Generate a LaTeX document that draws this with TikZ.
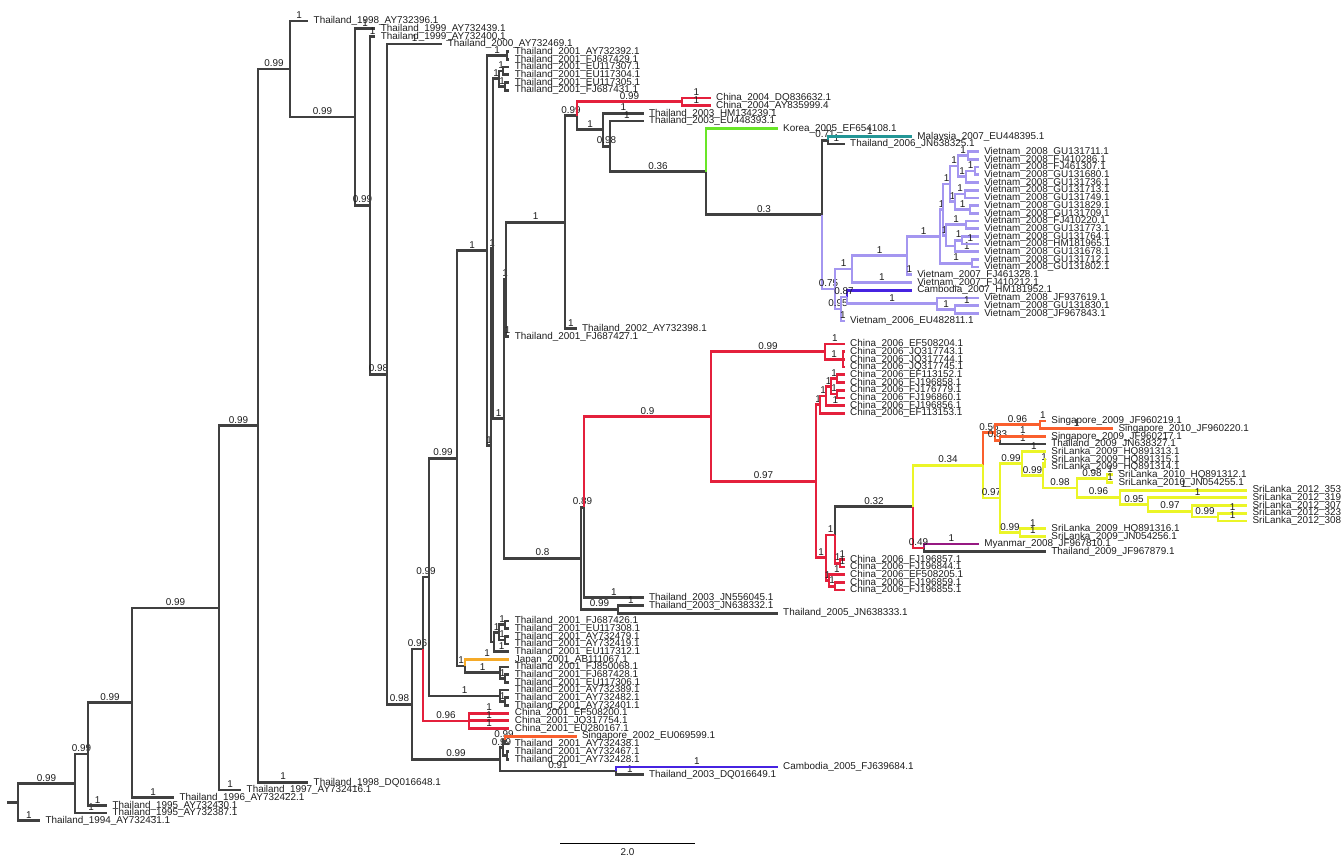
\documentclass[tikz,border=0pt]{standalone}
\usepackage{fontspec}
\setmainfont{Liberation Sans}

\definecolor{treegrey}{RGB}{64,64,64}
\definecolor{labgrey}{RGB}{30,30,30}
\definecolor{cnred}{RGB}{228,32,60}
\definecolor{vnlav}{RGB}{164,150,240}
\definecolor{khblue}{RGB}{70,35,225}
\definecolor{krgreen}{RGB}{105,230,40}
\definecolor{myteal}{RGB}{35,150,150}
\definecolor{sgorange}{RGB}{250,95,45}
\definecolor{lkyellow}{RGB}{235,245,40}
\definecolor{mmpurple}{RGB}{150,25,130}
\definecolor{jporange}{RGB}{245,170,40}

\begin{document}
\begin{tikzpicture}[x=1pt, y=-1pt]

  \tikzstyle{br}=[draw=treegrey, line width=2.7pt]
  \tikzstyle{elbow}=[to path={|- (\tikztotarget) \tikztonodes}]
  \tikzstyle{tip}=[anchor=west, inner xsep=5.5pt, inner ysep=0pt, outer sep=0pt, text height=7pt, text depth=1.5pt, font=\fontsize{9.9}{10}\selectfont, text=labgrey]
  \tikzstyle{pp}=[above, pos=0.75, inner sep=1pt, font=\fontsize{9.9}{10}\selectfont, text=labgrey]
  \tikzstyle{cn}=[draw=cnred]
  \tikzstyle{vn}=[draw=vnlav]
  \tikzstyle{kh}=[draw=khblue]
  \tikzstyle{kr}=[draw=krgreen]
  \tikzstyle{my}=[draw=myteal]
  \tikzstyle{sg}=[draw=sgorange]
  \tikzstyle{lk}=[draw=lkyellow]
  \tikzstyle{mm}=[draw=mmpurple]
  \tikzstyle{jp}=[draw=jporange]

  \useasboundingbox (0,0) rectangle (1341,860);

  % tips
  \node[tip] (t1) at (308.2,21.0) {Thailand\_1998\_AY732396.1};
  \node[tip] (t2) at (375.3,28.7) {Thailand\_1999\_AY732439.1};
  \node[tip] (t3) at (375.3,36.4) {Thailand\_1999\_AY732400.1};
  \node[tip] (t4) at (442.4,44.1) {Thailand\_2000\_AY732469.1};
  \node[tip] (t5) at (509.4,51.8) {Thailand\_2001\_AY732392.1};
  \node[tip] (t6) at (509.4,59.5) {Thailand\_2001\_FJ687429.1};
  \node[tip] (t7) at (509.4,67.1) {Thailand\_2001\_EU117307.1};
  \node[tip] (t8) at (509.4,74.8) {Thailand\_2001\_EU117304.1};
  \node[tip] (t9) at (509.4,82.5) {Thailand\_2001\_EU117305.1};
  \node[tip] (t10) at (509.4,90.2) {Thailand\_2001\_FJ687431.1};
  \node[tip] (t11) at (710.6,97.9) {China\_2004\_DQ836632.1};
  \node[tip] (t12) at (710.6,105.6) {China\_2004\_AY835999.4};
  \node[tip] (t13) at (643.5,113.3) {Thailand\_2003\_HM134239.1};
  \node[tip] (t14) at (643.5,121.0) {Thailand\_2003\_EU448393.1};
  \node[tip] (t15) at (777.7,128.7) {Korea\_2005\_EF654108.1};
  \node[tip] (t16) at (911.8,136.4) {Malaysia\_2007\_EU448395.1};
  \node[tip] (t17) at (844.7,144.0) {Thailand\_2006\_JN638325.1};
  \node[tip] (t18) at (978.8,151.7) {Vietnam\_2008\_GU131711.1};
  \node[tip] (t19) at (978.8,159.4) {Vietnam\_2008\_FJ410286.1};
  \node[tip] (t20) at (978.8,167.1) {Vietnam\_2008\_FJ461307.1};
  \node[tip] (t21) at (978.8,174.8) {Vietnam\_2008\_GU131680.1};
  \node[tip] (t22) at (978.8,182.5) {Vietnam\_2008\_GU131736.1};
  \node[tip] (t23) at (978.8,190.2) {Vietnam\_2008\_GU131713.1};
  \node[tip] (t24) at (978.8,197.9) {Vietnam\_2008\_GU131749.1};
  \node[tip] (t25) at (978.8,205.6) {Vietnam\_2008\_GU131829.1};
  \node[tip] (t26) at (978.8,213.3) {Vietnam\_2008\_GU131709.1};
  \node[tip] (t27) at (978.8,221.0) {Vietnam\_2008\_FJ410220.1};
  \node[tip] (t28) at (978.8,228.7) {Vietnam\_2008\_GU131773.1};
  \node[tip] (t29) at (978.8,236.3) {Vietnam\_2008\_GU131764.1};
  \node[tip] (t30) at (978.8,244.0) {Vietnam\_2008\_HM181965.1};
  \node[tip] (t31) at (978.8,251.7) {Vietnam\_2008\_GU131678.1};
  \node[tip] (t32) at (978.8,259.4) {Vietnam\_2008\_GU131712.1};
  \node[tip] (t33) at (978.8,267.1) {Vietnam\_2008\_GU131802.1};
  \node[tip] (t34) at (911.8,274.8) {Vietnam\_2007\_FJ461328.1};
  \node[tip] (t35) at (911.8,282.5) {Vietnam\_2007\_FJ410212.1};
  \node[tip] (t36) at (911.8,290.2) {Cambodia\_2007\_HM181952.1};
  \node[tip] (t37) at (978.8,297.9) {Vietnam\_2008\_JF937619.1};
  \node[tip] (t38) at (978.8,305.6) {Vietnam\_2008\_GU131830.1};
  \node[tip] (t39) at (978.8,313.3) {Vietnam\_2008\_JF967843.1};
  \node[tip] (t40) at (844.7,321.0) {Vietnam\_2006\_EU482811.1};
  \node[tip] (t41) at (576.5,328.6) {Thailand\_2002\_AY732398.1};
  \node[tip] (t42) at (509.4,336.3) {Thailand\_2001\_FJ687427.1};
  \node[tip] (t43) at (844.7,344.0) {China\_2006\_EF508204.1};
  \node[tip] (t44) at (844.7,351.7) {China\_2006\_JQ317743.1};
  \node[tip] (t45) at (844.7,359.4) {China\_2006\_JQ317744.1};
  \node[tip] (t46) at (844.7,367.1) {China\_2006\_JQ317745.1};
  \node[tip] (t47) at (844.7,374.8) {China\_2006\_EF113152.1};
  \node[tip] (t48) at (844.7,382.5) {China\_2006\_FJ196858.1};
  \node[tip] (t49) at (844.7,390.2) {China\_2006\_FJ176779.1};
  \node[tip] (t50) at (844.7,397.9) {China\_2006\_FJ196860.1};
  \node[tip] (t51) at (844.7,405.5) {China\_2006\_FJ196856.1};
  \node[tip] (t52) at (844.7,413.2) {China\_2006\_EF113153.1};
  \node[tip] (t53) at (1045.9,420.9) {Singapore\_2009\_JF960219.1};
  \node[tip] (t54) at (1113.0,428.6) {Singapore\_2010\_JF960220.1};
  \node[tip] (t55) at (1045.9,436.3) {Singapore\_2009\_JF960217.1};
  \node[tip] (t56) at (1045.9,444.0) {Thailand\_2009\_JN638327.1};
  \node[tip] (t57) at (1045.9,451.7) {SriLanka\_2009\_HQ891313.1};
  \node[tip] (t58) at (1045.9,459.4) {SriLanka\_2009\_HQ891315.1};
  \node[tip] (t59) at (1045.9,467.1) {SriLanka\_2009\_HQ891314.1};
  \node[tip] (t60) at (1113.0,474.8) {SriLanka\_2010\_HQ891312.1};
  \node[tip] (t61) at (1113.0,482.5) {SriLanka\_2010\_JN054255.1};
  \node[tip] (t62) at (1247.1,490.2) {SriLanka\_2012\_353};
  \node[tip] (t63) at (1247.1,497.8) {SriLanka\_2012\_319};
  \node[tip] (t64) at (1247.1,505.5) {SriLanka\_2012\_307};
  \node[tip] (t65) at (1247.1,513.2) {SriLanka\_2012\_323};
  \node[tip] (t66) at (1247.1,520.9) {SriLanka\_2012\_308};
  \node[tip] (t67) at (1045.9,528.6) {SriLanka\_2009\_HQ891316.1};
  \node[tip] (t68) at (1045.9,536.3) {SriLanka\_2009\_JN054256.1};
  \node[tip] (t69) at (978.8,544.0) {Myanmar\_2008\_JF967810.1};
  \node[tip] (t70) at (1045.9,551.7) {Thailand\_2009\_JF967879.1};
  \node[tip] (t71) at (844.7,559.4) {China\_2006\_FJ196857.1};
  \node[tip] (t72) at (844.7,567.1) {China\_2006\_FJ196844.1};
  \node[tip] (t73) at (844.7,574.7) {China\_2006\_EF508205.1};
  \node[tip] (t74) at (844.7,582.4) {China\_2006\_FJ196859.1};
  \node[tip] (t75) at (844.7,590.1) {China\_2006\_FJ196855.1};
  \node[tip] (t76) at (643.5,597.8) {Thailand\_2003\_JN556045.1};
  \node[tip] (t77) at (643.5,605.5) {Thailand\_2003\_JN638332.1};
  \node[tip] (t78) at (777.7,613.2) {Thailand\_2005\_JN638333.1};
  \node[tip] (t79) at (509.4,620.9) {Thailand\_2001\_FJ687426.1};
  \node[tip] (t80) at (509.4,628.6) {Thailand\_2001\_EU117308.1};
  \node[tip] (t81) at (509.4,636.3) {Thailand\_2001\_AY732479.1};
  \node[tip] (t82) at (509.4,643.9) {Thailand\_2001\_AY732419.1};
  \node[tip] (t83) at (509.4,651.6) {Thailand\_2001\_EU117312.1};
  \node[tip] (t84) at (509.4,659.3) {Japan\_2001\_AB111067.1};
  \node[tip] (t85) at (509.4,667.0) {Thailand\_2001\_FJ850068.1};
  \node[tip] (t86) at (509.4,674.7) {Thailand\_2001\_FJ687428.1};
  \node[tip] (t87) at (509.4,682.4) {Thailand\_2001\_EU117306.1};
  \node[tip] (t88) at (509.4,690.1) {Thailand\_2001\_AY732389.1};
  \node[tip] (t89) at (509.4,697.8) {Thailand\_2001\_AY732482.1};
  \node[tip] (t90) at (509.4,705.5) {Thailand\_2001\_AY732401.1};
  \node[tip] (t91) at (509.4,713.2) {China\_2001\_EF508200.1};
  \node[tip] (t92) at (509.4,720.8) {China\_2001\_JQ317754.1};
  \node[tip] (t93) at (509.4,728.5) {China\_2001\_EU280167.1};
  \node[tip] (t94) at (576.5,736.2) {Singapore\_2002\_EU069599.1};
  \node[tip] (t95) at (509.4,743.9) {Thailand\_2001\_AY732438.1};
  \node[tip] (t96) at (509.4,751.6) {Thailand\_2001\_AY732467.1};
  \node[tip] (t97) at (509.4,759.3) {Thailand\_2001\_AY732428.1};
  \node[tip] (t98) at (777.7,767.0) {Cambodia\_2005\_FJ639684.1};
  \node[tip] (t99) at (643.5,774.7) {Thailand\_2003\_DQ016649.1};
  \node[tip] (t100) at (308.2,782.3) {Thailand\_1998\_DQ016648.1};
  \node[tip] (t101) at (241.2,790.0) {Thailand\_1997\_AY732416.1};
  \node[tip] (t102) at (174.1,797.7) {Thailand\_1996\_AY732422.1};
  \node[tip] (t103) at (107.1,805.4) {Thailand\_1995\_AY732430.1};
  \node[tip] (t104) at (107.1,813.1) {Thailand\_1995\_AY732387.1};
  \node[tip] (t105) at (40.0,820.8) {Thailand\_1994\_AY732431.1};

  % internal nodes
  \coordinate (stub) at (7,802.2);
  \coordinate (root) at (18,802.2);
  \coordinate (nB) at (75,783.6);
  \coordinate (nC) at (88,754.1);
  \coordinate (nD) at (132,702.8);
  \coordinate (nE) at (219,607.9);
  \coordinate (nF) at (258,425.7);
  \coordinate (nG) at (290,69.0);
  \coordinate (nH) at (355,117.0);
  \coordinate (nI) at (370,205.3);
  \coordinate (nJ) at (387,374.2);
  \coordinate (nK) at (412,704.2);
  \coordinate (nL) at (423,649.0);
  \coordinate (nM) at (500,759.3);
  \coordinate (nN) at (429,577.1);
  \coordinate (nO) at (469,720.9);
  \coordinate (nP) at (457,458.3);
  \coordinate (nQ) at (500,695.9);
  \coordinate (nQa) at (505,701.7);
  \coordinate (nR) at (487,250.5);
  \coordinate (nS) at (465,666.0);
  \coordinate (nT) at (500,672.8);
  \coordinate (nTa) at (505,678.6);
  \coordinate (nX) at (507,55.7);
  \coordinate (nW) at (491,445.4);
  \coordinate (nR1) at (493,248.7);
  \coordinate (nY) at (499,78.7);
  \coordinate (nYa) at (503,71.0);
  \coordinate (nYb) at (505,86.4);
  \coordinate (nZ) at (494,642.0);
  \coordinate (nZ1) at (499,632.4);
  \coordinate (nZa) at (505,624.8);
  \coordinate (nZb) at (505,640.1);
  \coordinate (nV) at (504,418.8);
  \coordinate (nV1) at (506,279.2);
  \coordinate (nAA) at (565,222.2);
  \coordinate (nAC) at (577,115.8);
  \coordinate (nCN) at (682,101.8);
  \coordinate (nAE0) at (603,129.8);
  \coordinate (nAE1) at (610,146.3);
  \coordinate (nAG0) at (706,171.6);
  \coordinate (nAE) at (822,214.6);
  \coordinate (nAF) at (828,140.2);
  \coordinate (nAG) at (835,289.0);
  \coordinate (nAH) at (852,269.1);
  \coordinate (nAM) at (907,255.6);
  \coordinate (nAN) at (940,236.5);
  \coordinate (nAN1) at (943,209.7);
  \coordinate (nAN2) at (972,263.3);
  \coordinate (nA1) at (950,183.9);
  \coordinate (nA11) at (958,166.1);
  \coordinate (nA111) at (968,155.6);
  \coordinate (nA112) at (966,176.7);
  \coordinate (nA1121) at (975,171.0);
  \coordinate (nA12) at (955,201.7);
  \coordinate (nA121) at (965,194.0);
  \coordinate (nA122) at (970,209.4);
  \coordinate (nA2) at (946,235.4);
  \coordinate (nA21) at (966,224.8);
  \coordinate (nA22) at (955,246.0);
  \coordinate (nA221) at (962,240.2);
  \coordinate (nAJ) at (841,309.0);
  \coordinate (nAK) at (847,297.0);
  \coordinate (nAL) at (937,303.7);
  \coordinate (nAL2) at (955,309.5);
  \coordinate (nAB) at (581,558.3);
  \coordinate (nAR0) at (584,507.2);
  \coordinate (nAT) at (618,609.4);
  \coordinate (nAU) at (711,416.5);
  \coordinate (nAV) at (825,351.7);
  \coordinate (nAV2) at (843,359.4);
  \coordinate (nAY) at (816,481.2);
  \coordinate (nAX) at (820,404.6);
  \coordinate (nAX1) at (826,396.0);
  \coordinate (nAX2) at (831,386.4);
  \coordinate (nAX3) at (837,378.7);
  \coordinate (nAX4) at (837,394.1);
  \coordinate (nAZ) at (826,557.8);
  \coordinate (nBA) at (835,535.0);
  \coordinate (nBD) at (840,563.3);
  \coordinate (nBB) at (829,580.5);
  \coordinate (nBB2) at (835,586.3);
  \coordinate (nBC) at (913,506.6);
  \coordinate (nBE) at (924,547.9);
  \coordinate (nBF) at (983,465.3);
  \coordinate (nBH) at (995,432.5);
  \coordinate (nBJ) at (1040,424.8);
  \coordinate (nBK) at (1000,440.2);
  \coordinate (nBI) at (1000,498.1);
  \coordinate (nBN) at (1020,532.5);
  \coordinate (nBL) at (1022,463.7);
  \coordinate (nBO) at (1043,475.7);
  \coordinate (nBO1) at (1045,463.3);
  \coordinate (nBP) at (1077,488.0);
  \coordinate (nBQ) at (1107,478.7);
  \coordinate (nBR) at (1120,497.4);
  \coordinate (nBS) at (1148,504.6);
  \coordinate (nBT) at (1192,511.3);
  \coordinate (nBU) at (1218,517.1);
  \coordinate (nBV) at (616,770.9);
  \coordinate (nBW) at (503,747.8);
  \coordinate (nBX) at (505,740.1);
  \coordinate (nBY) at (507,755.5);

  % backbone and grey branches
  \path[br]
    (stub) edge (root)
    (root) edge[elbow] node[pp] {0.99} (nB)
    (root) edge[elbow] node[pp] {1} (t105)
    (nB) edge[elbow] node[pp] {0.99} (nC)
    (nB) edge[elbow] node[pp] {1} (t104)
    (nC) edge[elbow] node[pp] {0.99} (nD)
    (nC) edge[elbow] node[pp] {1} (t103)
    (nD) edge[elbow] node[pp] {0.99} (nE)
    (nD) edge[elbow] node[pp] {1} (t102)
    (nE) edge[elbow] node[pp] {0.99} (nF)
    (nE) edge[elbow] node[pp] {1} (t101)
    (nF) edge[elbow] node[pp] {0.99} (nG)
    (nF) edge[elbow] node[pp] {1} (t100)
    (nG) edge[elbow] node[pp] {1} (t1)
    (nG) edge[elbow] node[pp] {0.99} (nH)
    (nH) edge[elbow] node[pp] {1} (t2)
    (nH) edge[elbow] node[pp] {0.99} (nI)
    (nI) edge[elbow] node[pp] {1} (t3)
    (nI) edge[elbow] node[pp] {0.98} (nJ)
    (nJ) edge[elbow] node[pp] {1} (t4)
    (nJ) edge[elbow] node[pp] {0.98} (nK)
    (nK) edge[elbow] node[pp] {0.96} (nL)
    (nK) edge[elbow] node[pp] {0.99} (nM)
    (nL) edge[elbow] node[pp] {0.99} (nN)
    (nN) edge[elbow] node[pp] {0.99} (nP)
    (nN) edge[elbow] node[pp] {1} (nQ)
    (nQ) edge[elbow] (t88)
    (nQ) edge[elbow] node[pp] {1} (nQa)
    (nQa) edge[elbow] (t89)
    (nQa) edge[elbow] (t90)
    (nP) edge[elbow] node[pp] {1} (nR)
    (nP) edge[elbow] node[pp] {1} (nS)
    (nS) edge[elbow] node[pp] {1} (nT)
    (nT) edge[elbow] (t85)
    (nT) edge[elbow] node[pp] {1} (nTa)
    (nTa) edge[elbow] (t86)
    (nTa) edge[elbow] (t87)
    (nR) edge[elbow] node[pp] {1} (nX)
    (nR) edge[elbow] node[pp] {1} (nW)
    (nX) edge[elbow] (t5)
    (nX) edge[elbow] (t6)
    (nW) edge[elbow] node[pp] {1} (nR1)
    (nW) edge[elbow] (nZ)
    (nR1) edge[elbow] node[pp] {1} (nY)
    (nR1) edge[elbow] node[pp] {1} (nV)
    (nY) edge[elbow] node[pp] {1} (nYa)
    (nY) edge[elbow] node[pp] {1} (nYb)
    (nYa) edge[elbow] (t7)
    (nYa) edge[elbow] (t8)
    (nYb) edge[elbow] (t9)
    (nYb) edge[elbow] (t10)
    (nZ) edge[elbow] node[pp] {1} (nZ1)
    (nZ) edge[elbow] node[pp] {1} (t83)
    (nZ1) edge[elbow] node[pp] {1} (nZa)
    (nZ1) edge[elbow] node[pp] {1} (nZb)
    (nZa) edge[elbow] (t79)
    (nZa) edge[elbow] (t80)
    (nZb) edge[elbow] (t81)
    (nZb) edge[elbow] (t82)
    (nV) edge[elbow] node[pp] {1} (nV1)
    (nV) edge[elbow] node[pp] {0.8} (nAB)
    (nV1) edge[elbow] node[pp] {1} (nAA)
    (nV1) edge[elbow] node[pp] {1} (t42)
    (nAA) edge[elbow] node[pp] {0.99} (nAC)
    (nAA) edge[elbow] node[pp] {1} (t41)
    (nAC) edge[elbow] node[pp] {1} (nAE0)
    (nAE0) edge[elbow] node[pp] {1} (t13)
    (nAE0) edge[elbow] node[pp] {0.98} (nAE1)
    (nAE1) edge[elbow] node[pp] {1} (t14)
    (nAE1) edge[elbow] node[pp] {0.36} (nAG0)
    (nAG0) edge[elbow] node[pp] {0.3} (nAE)
    (nAE) edge[elbow] node[pp] {0.71} (nAF)
    (nAF) edge[elbow] node[pp] {1} (t17)
    (nAB) edge[elbow] node[pp] {0.89} (nAR0)
    (nAB) edge[elbow] node[pp] {0.99} (nAT)
    (nAR0) edge[elbow] node[pp] {1} (t76)
    (nAT) edge[elbow] node[pp] {1} (t77)
    (nAT) edge[elbow] (t78)
    (nBA) edge[elbow] node[pp] {0.32} (nBC)
    (nBE) edge[elbow] (t70)
    (nBK) edge[elbow] node[pp] {1} (t56)
    (nM) edge[elbow] node[pp] {0.99} (nBW)
    (nM) edge[elbow] node[pp] {0.91} (nBV)
    (nBW) edge[elbow] node[pp] {0.99} (nBX)
    (nBW) edge[elbow] (nBY)
    (nBX) edge[elbow] (t95)
    (nBY) edge[elbow] (t96)
    (nBY) edge[elbow] (t97)
    (nBV) edge[elbow] node[pp] {1} (t99);

  % China 2001
  \path[br, cn]
    (nL) edge[elbow] node[pp] {0.96} (nO)
    (nO) edge[elbow] node[pp] {1} (t91)
    (nO) edge[elbow] node[pp] {1} (t92)
    (nO) edge[elbow] node[pp] {1} (t93);

  % single coloured tips
  \path[br]
    (nS) edge[elbow, jp] node[pp] {1} (t84)
    (nBX) edge[elbow, sg] (t94)
    (nBV) edge[elbow, kh] node[pp] {1} (t98)
    (nAG0) edge[elbow, kr] (t15)
    (nAF) edge[elbow, my] node[pp] {1} (t16)
    (nAK) edge[elbow, kh] (t36)
    (nBE) edge[elbow, mm] node[pp] {1} (t69);

  % China 2004
  \path[br, cn]
    (nAC) edge[elbow] node[pp] {0.99} (nCN)
    (nCN) edge[elbow] node[pp] {1} (t11)
    (nCN) edge[elbow] node[pp] {1} (t12);

  % Vietnam
  \path[br, vn]
    (nAE) edge[elbow] node[pp] {0.75} (nAG)
    (nAG) edge[elbow] node[pp] {1} (nAH)
    (nAG) edge[elbow] node[pp] {0.95} (nAJ)
    (nAH) edge[elbow] node[pp] {1} (nAM)
    (nAH) edge[elbow] node[pp] {1} (t35)
    (nAM) edge[elbow] node[pp] {1} (nAN)
    (nAM) edge[elbow] node[pp] {1} (t34)
    (nAN) edge[elbow] node[pp] {1} (nAN1)
    (nAN) edge[elbow] node[pp] {1} (nAN2)
    (nAN1) edge[elbow] node[pp] {1} (nA1)
    (nAN1) edge[elbow] node[pp] {1} (nA2)
    (nA1) edge[elbow] node[pp] {1} (nA11)
    (nA1) edge[elbow] node[pp] {1} (nA12)
    (nA11) edge[elbow] node[pp] {1} (nA111)
    (nA11) edge[elbow] node[pp] {1} (nA112)
    (nA111) edge[elbow] (t18)
    (nA111) edge[elbow] (t19)
    (nA112) edge[elbow] node[pp] {1} (nA1121)
    (nA112) edge[elbow] (t22)
    (nA1121) edge[elbow] (t20)
    (nA1121) edge[elbow] (t21)
    (nA12) edge[elbow] node[pp] {1} (nA121)
    (nA12) edge[elbow] node[pp] {1} (nA122)
    (nA121) edge[elbow] (t23)
    (nA121) edge[elbow] (t24)
    (nA122) edge[elbow] (t25)
    (nA122) edge[elbow] (t26)
    (nA2) edge[elbow] node[pp] {1} (nA21)
    (nA2) edge[elbow] (nA22)
    (nA21) edge[elbow] (t27)
    (nA21) edge[elbow] (t28)
    (nA22) edge[elbow] node[pp] {1} (nA221)
    (nA22) edge[elbow] node[pp] {1} (t31)
    (nA221) edge[elbow] (t29)
    (nA221) edge[elbow] node[pp] {1} (t30)
    (nAN2) edge[elbow] (t32)
    (nAN2) edge[elbow] (t33)
    (nAJ) edge[elbow] node[pp] {0.87} (nAK)
    (nAJ) edge[elbow] node[pp] {1} (t40)
    (nAK) edge[elbow] node[pp] {1} (nAL)
    (nAL) edge[elbow] (t37)
    (nAL) edge[elbow] node[pp] {1} (nAL2)
    (nAL2) edge[elbow] node[pp] {1} (t38)
    (nAL2) edge[elbow] (t39);

  % China 2006
  \path[br, cn]
    (nAR0) edge[elbow] node[pp] {0.9} (nAU)
    (nAU) edge[elbow] node[pp] {0.99} (nAV)
    (nAU) edge[elbow] node[pp] {0.97} (nAY)
    (nAV) edge[elbow] node[pp] {1} (t43)
    (nAV) edge[elbow] node[pp] {1} (nAV2)
    (nAV2) edge[elbow] (t44)
    (nAV2) edge[elbow] (t45)
    (nAV2) edge[elbow] (t46)
    (nAY) edge[elbow] node[pp] {1} (nAX)
    (nAY) edge[elbow] node[pp] {1} (nAZ)
    (nAX) edge[elbow] node[pp] {1} (nAX1)
    (nAX) edge[elbow] (t52)
    (nAX1) edge[elbow] node[pp] {1} (nAX2)
    (nAX1) edge[elbow] node[pp] {1} (t51)
    (nAX2) edge[elbow] node[pp] {1} (nAX3)
    (nAX2) edge[elbow] node[pp] {1} (nAX4)
    (nAX3) edge[elbow] (t47)
    (nAX3) edge[elbow] (t48)
    (nAX4) edge[elbow] (t49)
    (nAX4) edge[elbow] (t50)
    (nAZ) edge[elbow] node[pp] {1} (nBA)
    (nAZ) edge[elbow] node[pp] {1} (nBB)
    (nBA) edge[elbow] node[pp] {1} (nBD)
    (nBD) edge[elbow] node[pp] {1} (t71)
    (nBD) edge[elbow] node[pp] {1} (t72)
    (nBB) edge[elbow] node[pp] {1} (t73)
    (nBB) edge[elbow] node[pp] {1} (nBB2)
    (nBB2) edge[elbow] (t74)
    (nBB2) edge[elbow] (t75)
    (nBC) edge[elbow] node[pp] {0.49} (nBE);

  % Singapore
  \path[br, sg]
    (nBF) edge[elbow] node[pp] {0.56} (nBH)
    (nBH) edge[elbow] node[pp] {0.96} (nBJ)
    (nBH) edge[elbow] node[pp] {0.83} (nBK)
    (nBJ) edge[elbow] node[pp] {1} (t53)
    (nBJ) edge[elbow] node[pp] {1} (t54)
    (nBK) edge[elbow] node[pp] {1} (t55);

  % Sri Lanka
  \path[br, lk]
    (nBC) edge[elbow] node[pp] {0.34} (nBF)
    (nBF) edge[elbow] node[pp] {0.97} (nBI)
    (nBI) edge[elbow] node[pp] {0.99} (nBL)
    (nBI) edge[elbow] node[pp] {0.99} (nBN)
    (nBN) edge[elbow] node[pp] {1} (t67)
    (nBN) edge[elbow] node[pp] {1} (t68)
    (nBL) edge[elbow] node[pp] {1} (t57)
    (nBL) edge[elbow] node[pp] {0.99} (nBO)
    (nBO) edge[elbow] node[pp] {1} (nBO1)
    (nBO) edge[elbow] node[pp] {0.98} (nBP)
    (nBO1) edge[elbow] (t58)
    (nBO1) edge[elbow] (t59)
    (nBP) edge[elbow] node[pp] {0.98} (nBQ)
    (nBP) edge[elbow] node[pp] {0.96} (nBR)
    (nBQ) edge[elbow] node[pp] {1} (t60)
    (nBQ) edge[elbow] node[pp] {1} (t61)
    (nBR) edge[elbow] node[pp] {1} (t62)
    (nBR) edge[elbow] node[pp] {0.95} (nBS)
    (nBS) edge[elbow] node[pp] {1} (t63)
    (nBS) edge[elbow] node[pp] {0.97} (nBT)
    (nBT) edge[elbow] (t64)
    (nBT) edge[elbow] node[pp] {0.99} (nBU)
    (nBU) edge[elbow] node[pp] {1} (t65)
    (nBU) edge[elbow] node[pp] {1} (t66);

  % scale bar
  \coordinate (sbl) at (560,843);
  \coordinate (sbr) at (695,843);
  \draw[draw=black, line width=0.9pt] (sbl) -- node[below=2pt, font=\fontsize{9.9}{10}\selectfont, text=labgrey] {2.0} (sbr);

\end{tikzpicture}
\end{document}
